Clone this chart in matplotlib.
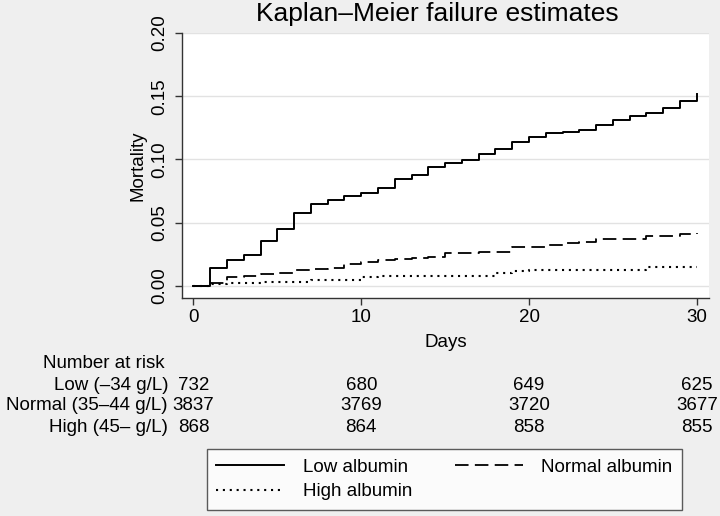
import matplotlib
matplotlib.use('Agg')
import matplotlib.pyplot as plt
import matplotlib.transforms as mtransforms

plt.rcParams['font.family'] = ['Liberation Sans', 'DejaVu Sans']

# cumulative mortality, one value per day 0..30
days = list(range(0, 31))
low_mort = [0, 0.0140, 0.0205, 0.0242, 0.0358, 0.0450, 0.0574, 0.0645, 0.0679, 0.0711,
            0.0737, 0.0777, 0.0845, 0.0874, 0.0943, 0.0969, 0.0995, 0.1040, 0.1080, 0.1135,
            0.1175, 0.1206, 0.1219, 0.1232, 0.1272, 0.1311, 0.1341, 0.1364, 0.1406, 0.1464,
            0.1517]
normal_mort = [0, 0.0026, 0.0071, 0.0081, 0.0094, 0.0104, 0.0125, 0.0138, 0.0146, 0.0172,
               0.0192, 0.0205, 0.0210, 0.0218, 0.0232, 0.0258, 0.0258, 0.0270, 0.0270, 0.0305,
               0.0305, 0.0324, 0.0337, 0.0348, 0.0369, 0.0369, 0.0369, 0.0397, 0.0397, 0.0413,
               0.0420]
high_mort = [0, 0.0012, 0.0023, 0.0023, 0.0035, 0.0035, 0.0035, 0.0046, 0.0046, 0.0046,
             0.0069, 0.0081, 0.0081, 0.0081, 0.0081, 0.0081, 0.0081, 0.0081, 0.0104, 0.0115,
             0.0127, 0.0127, 0.0127, 0.0127, 0.0127, 0.0127, 0.0127, 0.0150, 0.0150, 0.0150,
             0.0150]

# number at risk table
risk_days = [0, 10, 20, 30]
risk_groups = ['Low (\u201334 g/L)', 'Normal (35\u201344 g/L)', 'High (45\u2013 g/L)']
low_risk = [732, 680, 649, 625]
normal_risk = [3837, 3769, 3720, 3677]
high_risk = [868, 864, 858, 855]

series_labels = ['Low albumin', 'Normal albumin', 'High albumin']
y_ticks = [0.00, 0.05, 0.10, 0.15, 0.20]
x_ticks = [0, 10, 20, 30]

bg = '#efefef'
fs = 13.5

fig = plt.figure(figsize=(7.2, 5.16), dpi=100, facecolor=bg)
ax = fig.add_axes([0.2524, 0.4225, 0.7324, 0.5136])
ax.set_facecolor('white')

# gridlines like stata
for yv in y_ticks:
    ax.axhline(yv, color='#e2e2e2', lw=1.0, zorder=0)

l1, = ax.step(days, low_mort, where='post', color='black', lw=1.4, label=series_labels[0])
l2, = ax.step(days, normal_mort, where='post', color='black', lw=1.3,
              linestyle=(0, (7.5, 3.5)), label=series_labels[1])
l3, = ax.step(days, high_mort, where='post', color='black', lw=1.5,
              linestyle=(0, (1.0, 2.3)), label=series_labels[2])

ax.set_xlim(-0.70, 30.73)
ax.set_ylim(-0.0095, 0.20)
ax.set_xticks(x_ticks)
ax.set_yticks(y_ticks)
ax.set_yticklabels(['%.2f' % v for v in y_ticks], rotation=90, va='center')
ax.tick_params(axis='both', labelsize=fs, length=5, width=1, color='#333333')
ax.tick_params(axis='y', pad=5)
ax.tick_params(axis='x', pad=3)
for side in ['top', 'right']:
    ax.spines[side].set_visible(False)
for side in ['left', 'bottom']:
    ax.spines[side].set_color('#333333')
    ax.spines[side].set_linewidth(1.0)

ax.set_xlabel('Days', fontsize=fs, labelpad=6)
ax.set_ylabel('Mortality', fontsize=fs, labelpad=3)

fig.text(437 / 720, 1 - 14 / 516, 'Kaplan\u2013Meier failure estimates',
         fontsize=19, ha='center', va='center')

# number at risk below the axis
trans = mtransforms.blended_transform_factory(ax.transData, fig.transFigure)
fig.text(43 / 720, 1 - 363 / 516, 'Number at risk', fontsize=fs, ha='left', va='center')
row_y = [385, 406, 427]
for i, counts in enumerate([low_risk, normal_risk, high_risk]):
    yy = 1 - row_y[i] / 516
    fig.text(168 / 720, yy, risk_groups[i], fontsize=fs, ha='right', va='center')
    for d, n in zip(risk_days, counts):
        ax.text(d, yy, str(n), fontsize=fs, ha='center', va='center', transform=trans)

# legend filled row by row: low, normal / high
leg = fig.legend([l1, l3, l2], [series_labels[0], series_labels[2], series_labels[1]],
                 loc='upper left', bbox_to_anchor=(207 / 720, 1 - 449 / 516),
                 ncol=2, fontsize=fs, frameon=True, fancybox=False,
                 handlelength=3.6, handletextpad=1.0, columnspacing=2.3,
                 labelspacing=0.42, borderpad=0.5, borderaxespad=0)
leg.get_frame().set_edgecolor('#333333')
leg.get_frame().set_linewidth(1.0)
leg.get_frame().set_facecolor('white')

fig.savefig('out.png', dpi=100, facecolor=bg)
